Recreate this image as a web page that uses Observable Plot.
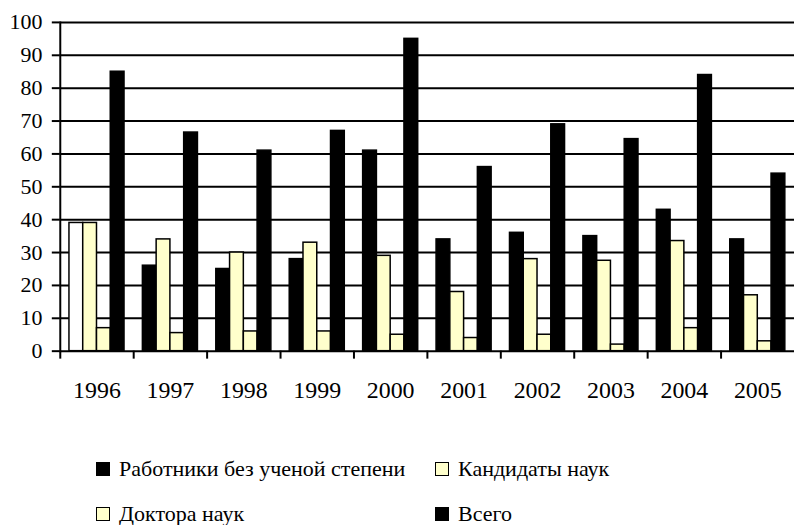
<!DOCTYPE html>
<html><head><meta charset="utf-8">
<script src="https://cdn.jsdelivr.net/npm/d3@7"></script>
<script src="https://cdn.jsdelivr.net/npm/@observablehq/plot@0.6"></script>
<style>
html,body{margin:0;padding:0;background:#fff;overflow:hidden;}
#wrap{width:794px;height:525px;overflow:hidden;position:relative;}
#wrap svg{display:block;}
.legend{position:absolute;left:96px;top:446px;display:grid;grid-template-columns:339px auto;grid-auto-rows:45px;font-size:22px;font-family:"Liberation Serif","Times New Roman",serif;color:#000;}
.item{display:flex;align-items:center;white-space:nowrap;}
.sw{width:12px;height:12px;border:1px solid #000;margin-right:9px;flex:none;}
</style></head><body><div id="wrap"></div>
<script>
const years = ["1996","1997","1998","1999","2000","2001","2002","2003","2004","2005"];
const seriesNames = ["Работники без ученой степени","Кандидаты наук","Доктора наук","Всего"];
const workers    = [39, 26, 25, 28, 61, 34, 36, 35, 43, 34];
const candidates = [39, 34, 30, 33, 29, 18, 28, 27.5, 33.5, 17];
const doctors    = [7, 5.5, 6, 6, 5, 4, 5, 2, 7, 3];
const total      = [85, 66.5, 61, 67, 95, 56, 69, 64.5, 84, 54];
const yTicks = [0,10,20,30,40,50,60,70,80,90,100];
const seriesColors = ["#000000","#FFFFCC","#FFFFCC","#000000"];

const seriesValues = [workers, candidates, doctors, total];
const table = [];
seriesNames.forEach((s, i) => years.forEach((y, j) => table.push({series: s, si: i, year: y, value: seriesValues[i][j]})));

const W = 797, H = 410, ml = 60, mr = 0, mt = 22, mb = 58;
const pInner = 0.25, pOuter = 0.125;
const step = (W - ml - mr) / (years.length - pInner + 2 * pOuter);
const bw = step * (1 - pInner);
const nS = seriesNames.length;

const barMarks = seriesNames.map((s, i) => Plot.barY(table.filter(d => d.si === i), {
  x: "year", y: "value",
  fill: d => (d.si === 0 && d.year === years[0]) ? "#FFFFFF" : seriesColors[i],
  stroke: "#000", strokeWidth: 1.5,
  insetLeft: i * bw / nS, insetRight: (nS - 1 - i) * bw / nS
}));

const plot = Plot.plot({
  width: W, height: H,
  marginLeft: ml, marginRight: mr, marginTop: mt, marginBottom: mb,
  style: {fontFamily: "'Liberation Serif', 'Times New Roman', serif", fontSize: "22px", color: "#000", background: "#fff"},
  x: {type: "band", domain: years, paddingInner: pInner, paddingOuter: pOuter, round: false, label: null},
  y: {domain: [0, 100], label: null},
  marks: [
    Plot.ruleY(yTicks, {stroke: "#000", strokeWidth: 2}),
    ...barMarks,
    Plot.frame({anchor: "left", stroke: "#000", strokeWidth: 2}),
    Plot.axisY({ticks: yTicks, tickSize: 8, tickPadding: 10, fontSize: 22, strokeWidth: 2, label: null}),
    Plot.axisX({tickSize: 0, tickPadding: 30, fontSize: 24, label: null}),
    Plot.axisX({tickSize: 8, tickFormat: () => "", dx: -step / 2, strokeWidth: 2, label: null})
  ]
});
document.getElementById("wrap").appendChild(plot);

const legend = document.createElement("div");
legend.className = "legend";
seriesNames.forEach((s, i) => {
  const it = document.createElement("div");
  it.className = "item";
  const sw = document.createElement("span");
  sw.className = "sw";
  sw.style.background = seriesColors[i];
  it.appendChild(sw);
  it.appendChild(document.createTextNode(s));
  legend.appendChild(it);
});
document.getElementById("wrap").appendChild(legend);
</script></body></html>
